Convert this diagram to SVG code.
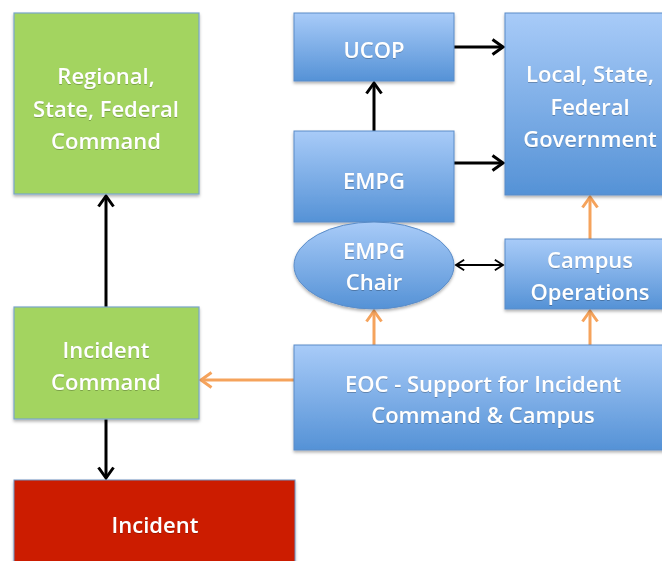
<svg xmlns="http://www.w3.org/2000/svg" width="662" height="561" viewBox="0 0 662 561">
  <defs>
    <linearGradient id="blueGrad" x1="0" y1="0" x2="0" y2="1">
      <stop offset="0" stop-color="#a8cbf8"/>
      <stop offset="1" stop-color="#5592d6"/>
    </linearGradient>
    <filter id="shadow" x="-10%" y="-10%" width="120%" height="130%">
      <feDropShadow dx="0" dy="2" stdDeviation="1.5" flood-color="#000" flood-opacity="0.3"/>
    </filter>
    <filter id="textShadow" x="-5%" y="-20%" width="110%" height="140%">
      <feDropShadow dx="0" dy="0.6" stdDeviation="0.7" flood-color="#000" flood-opacity="0.4"/>
    </filter>
    <marker id="arrowBlack" viewBox="0 0 12 12" refX="10" refY="6" markerWidth="6" markerHeight="6" markerUnits="strokeWidth" orient="auto-start-reverse">
      <path d="M3,1 L10,6 L3,11" fill="none" stroke="#000" stroke-width="2"/>
    </marker>
    <marker id="arrowThin" viewBox="0 0 12 12" refX="10" refY="6" markerWidth="7" markerHeight="7" markerUnits="strokeWidth" orient="auto-start-reverse">
      <path d="M3,1.5 L10,6 L3,10.5" fill="none" stroke="#000" stroke-width="1.6"/>
    </marker>
    <marker id="arrowOrange" viewBox="0 0 12 12" refX="10" refY="6" markerWidth="6" markerHeight="6" markerUnits="strokeWidth" orient="auto-start-reverse">
      <path d="M3,1 L10,6 L3,11" fill="none" stroke="#f5a35c" stroke-width="2"/>
    </marker>
  </defs>
  <style>
    .blue { fill: url(#blueGrad); stroke: #5a8cc8; stroke-width: 1; filter: url(#shadow); }
    .green { fill: #a3d461; stroke: #7aa6c9; stroke-width: 1.2; filter: url(#shadow); }
    .red { fill: #cc1f00; stroke: #6c8fc0; stroke-width: 1; filter: url(#shadow); }
    .label { font-family: "Open Sans", "Liberation Sans", sans-serif; font-size: 22px; font-weight: 600; fill: #ffffff; text-anchor: middle; filter: url(#textShadow); }
    .black { stroke: #000; stroke-width: 3; fill: none; marker-end: url(#arrowBlack); }
    .orange { stroke: #f5a35c; stroke-width: 3; fill: none; marker-end: url(#arrowOrange); }
    .both { stroke: #000; stroke-width: 2; fill: none; marker-start: url(#arrowThin); marker-end: url(#arrowThin); }
  </style>

  <rect width="662" height="561" fill="#ffffff"/>

  <!-- connectors -->
  <g id="connectors">
    <line class="black" x1="106" y1="307" x2="106" y2="196"/>
    <line class="black" x1="106" y1="419" x2="106" y2="478"/>
    <line class="black" x1="374" y1="131" x2="374" y2="83"/>
    <line class="black" x1="454" y1="47" x2="503" y2="47"/>
    <line class="black" x1="454" y1="163" x2="503" y2="163"/>
    <line class="both" x1="456" y1="265" x2="503" y2="265"/>
    <line class="orange" x1="374" y1="345" x2="374" y2="311"/>
    <line class="orange" x1="590" y1="345" x2="590" y2="311"/>
    <line class="orange" x1="590" y1="239" x2="590" y2="197"/>
    <line class="orange" x1="294" y1="380" x2="201" y2="380"/>
  </g>

  <g id="regional">
    <rect class="green" x="14" y="13" width="185" height="181"/>
    <text class="label" x="106" y="84">Regional,</text>
    <text class="label" x="106" y="117">State, Federal</text>
    <text class="label" x="106" y="149">Command</text>
  </g>

  <g id="incident-command">
    <rect class="green" x="14" y="307" width="185" height="112"/>
    <text class="label" x="106" y="358">Incident</text>
    <text class="label" x="106" y="390">Command</text>
  </g>

  <g id="incident">
    <rect class="red" x="14" y="480" width="281" height="90"/>
    <text class="label" x="155" y="533">Incident</text>
  </g>

  <g id="ucop">
    <rect class="blue" x="294" y="13" width="160" height="68"/>
    <text class="label" x="374" y="58">UCOP</text>
  </g>

  <g id="empg">
    <rect class="blue" x="294" y="131" width="160" height="91"/>
    <text class="label" x="374" y="189">EMPG</text>
  </g>

  <g id="government">
    <rect class="blue" x="505" y="13" width="170" height="182"/>
    <text class="label" x="590" y="82">Local, State,</text>
    <text class="label" x="590" y="115">Federal</text>
    <text class="label" x="590" y="147">Government</text>
  </g>

  <g id="empg-chair">
    <ellipse class="blue" cx="374" cy="265.5" rx="80" ry="43.5"/>
    <text class="label" x="374" y="259">EMPG</text>
    <text class="label" x="374" y="290">Chair</text>
  </g>

  <g id="campus-operations">
    <rect class="blue" x="505" y="239" width="170" height="70"/>
    <text class="label" x="590" y="268">Campus</text>
    <text class="label" x="590" y="300">Operations</text>
  </g>

  <g id="eoc">
    <rect class="blue" x="294" y="345" width="378" height="105"/>
    <text class="label" x="483" y="392">EOC - Support for Incident</text>
    <text class="label" x="483" y="423">Command &amp; Campus</text>
  </g>
</svg>
